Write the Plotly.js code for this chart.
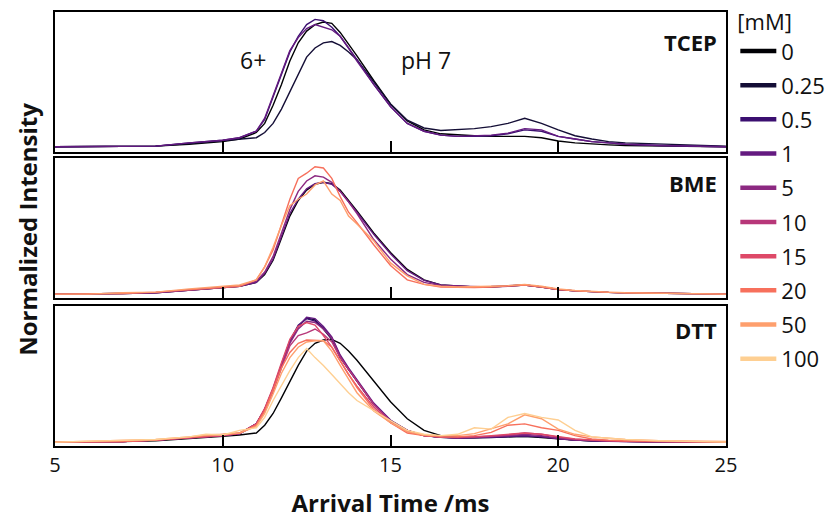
<!DOCTYPE html>
<html>
<head>
<meta charset="utf-8">
<script src="https://cdn.plot.ly/plotly-3.0.1.min.js"></script>
<style>html,body{margin:0;padding:0;background:#fff;}#chart{width:829px;height:519px;}</style>
</head>
<body>
<div id="chart"></div>
<script>
// Arrival time grid (ms)
const arrivalTime = [5, 6, 7, 8, 9, 9.5, 10, 10.5, 11, 11.25, 11.5, 11.75, 12, 12.25, 12.5, 12.75, 13, 13.25, 13.5, 13.75, 14, 14.5, 15, 15.5, 16, 16.5, 17, 17.5, 18, 18.5, 19, 19.5, 20, 20.5, 21, 21.5, 22, 23, 24, 25];

// Concentration labels [mM] and colours
const concLabels = ['0', '0.25', '0.5', '1', '5', '10', '15', '20', '50', '100'];
const concColors = ['#000004', '#140e36', '#3b0f70', '#641a80', '#8c2981', '#b73779', '#de4968', '#f7705c', '#fe9f6d', '#fecf92'];

// TCEP panel
const tcep_0    = [0.04,0.04,0.04,0.045,0.06,0.07,0.08,0.10,0.15,0.22,0.36,0.52,0.70,0.84,0.93,0.98,1.00,0.99,0.92,0.83,0.74,0.55,0.37,0.24,0.17,0.14,0.13,0.125,0.12,0.12,0.12,0.11,0.085,0.07,0.06,0.055,0.05,0.045,0.042,0.04];
const tcep_0_25 = [0.04,0.04,0.04,0.045,0.065,0.075,0.085,0.095,0.11,0.15,0.22,0.33,0.46,0.60,0.73,0.80,0.84,0.85,0.82,0.77,0.71,0.54,0.37,0.245,0.185,0.165,0.17,0.18,0.195,0.22,0.26,0.22,0.17,0.125,0.10,0.08,0.07,0.06,0.05,0.045];
const tcep_0_5  = [0.04,0.04,0.04,0.045,0.07,0.08,0.09,0.11,0.16,0.25,0.42,0.60,0.77,0.89,0.98,1.02,1.01,0.96,0.89,0.80,0.71,0.52,0.35,0.22,0.16,0.13,0.12,0.12,0.125,0.14,0.17,0.16,0.12,0.10,0.08,0.07,0.06,0.05,0.045,0.04];
const tcep_1    = [0.04,0.04,0.04,0.045,0.07,0.08,0.09,0.11,0.16,0.26,0.43,0.61,0.78,0.88,0.95,0.98,0.96,0.94,0.89,0.80,0.70,0.52,0.35,0.22,0.16,0.13,0.12,0.125,0.13,0.145,0.18,0.17,0.12,0.10,0.08,0.07,0.06,0.05,0.045,0.04];

// BME panel
const bme_0  = [0.03,0.03,0.035,0.04,0.06,0.07,0.08,0.09,0.12,0.18,0.29,0.46,0.63,0.75,0.83,0.875,0.89,0.88,0.83,0.75,0.67,0.50,0.35,0.22,0.14,0.10,0.09,0.085,0.085,0.09,0.10,0.085,0.065,0.055,0.048,0.043,0.04,0.035,0.032,0.03];
const bme_1  = [0.03,0.03,0.035,0.04,0.06,0.07,0.08,0.09,0.12,0.19,0.30,0.47,0.65,0.76,0.84,0.88,0.89,0.875,0.82,0.74,0.66,0.49,0.34,0.21,0.135,0.10,0.09,0.085,0.088,0.092,0.10,0.085,0.065,0.055,0.048,0.043,0.04,0.035,0.032,0.03];
const bme_5  = [0.03,0.03,0.035,0.04,0.06,0.07,0.08,0.09,0.13,0.20,0.32,0.50,0.68,0.82,0.90,0.94,0.93,0.89,0.82,0.74,0.65,0.45,0.30,0.18,0.12,0.095,0.09,0.085,0.085,0.09,0.10,0.085,0.065,0.055,0.048,0.043,0.04,0.035,0.032,0.03];
const bme_20 = [0.03,0.03,0.035,0.045,0.065,0.075,0.08,0.09,0.14,0.24,0.37,0.56,0.76,0.92,0.96,1.01,1.00,0.92,0.78,0.66,0.58,0.41,0.25,0.14,0.105,0.085,0.08,0.08,0.085,0.09,0.10,0.085,0.065,0.055,0.048,0.043,0.04,0.035,0.032,0.03];
const bme_50 = [0.03,0.03,0.04,0.045,0.07,0.08,0.085,0.10,0.14,0.24,0.39,0.56,0.71,0.76,0.80,0.87,0.90,0.80,0.75,0.63,0.57,0.44,0.27,0.17,0.105,0.09,0.085,0.085,0.09,0.095,0.105,0.09,0.07,0.058,0.05,0.045,0.04,0.036,0.033,0.03];

// DTT panel
const dtt_0    = [0.03,0.03,0.035,0.04,0.055,0.065,0.075,0.085,0.10,0.16,0.25,0.37,0.50,0.62,0.73,0.79,0.815,0.82,0.79,0.73,0.66,0.50,0.34,0.21,0.12,0.08,0.067,0.065,0.07,0.075,0.075,0.065,0.054,0.045,0.04,0.037,0.035,0.033,0.032,0.03];
const dtt_0_25 = [0.03,0.03,0.035,0.045,0.06,0.07,0.08,0.095,0.17,0.28,0.43,0.62,0.80,0.92,0.985,0.97,0.90,0.82,0.68,0.59,0.50,0.32,0.195,0.12,0.08,0.067,0.062,0.062,0.065,0.07,0.075,0.07,0.055,0.045,0.04,0.037,0.035,0.033,0.03,0.03];
const dtt_0_5  = [0.03,0.03,0.035,0.045,0.06,0.07,0.08,0.095,0.17,0.28,0.44,0.63,0.81,0.93,0.98,0.96,0.91,0.83,0.69,0.59,0.50,0.32,0.19,0.12,0.08,0.067,0.062,0.063,0.066,0.072,0.078,0.07,0.055,0.045,0.04,0.037,0.035,0.033,0.03,0.03];
const dtt_1    = [0.03,0.03,0.035,0.045,0.06,0.07,0.08,0.095,0.17,0.28,0.43,0.62,0.80,0.92,0.99,0.98,0.92,0.84,0.70,0.60,0.51,0.33,0.20,0.12,0.08,0.068,0.063,0.064,0.068,0.075,0.08,0.072,0.056,0.046,0.04,0.037,0.035,0.033,0.03,0.03];
const dtt_5    = [0.03,0.03,0.035,0.045,0.06,0.07,0.08,0.095,0.17,0.28,0.44,0.62,0.79,0.90,0.96,0.95,0.90,0.83,0.69,0.59,0.50,0.32,0.19,0.12,0.08,0.068,0.064,0.066,0.072,0.08,0.09,0.08,0.06,0.048,0.042,0.038,0.035,0.033,0.03,0.03];
const dtt_10   = [0.03,0.03,0.035,0.045,0.06,0.07,0.08,0.095,0.16,0.27,0.42,0.60,0.77,0.85,0.87,0.90,0.86,0.80,0.68,0.59,0.50,0.32,0.19,0.12,0.08,0.068,0.065,0.068,0.075,0.085,0.10,0.09,0.068,0.052,0.044,0.04,0.036,0.034,0.031,0.03];
const dtt_15   = [0.03,0.03,0.035,0.045,0.06,0.07,0.08,0.10,0.17,0.29,0.45,0.64,0.82,0.92,0.95,0.93,0.85,0.76,0.65,0.55,0.46,0.30,0.18,0.11,0.08,0.07,0.068,0.07,0.08,0.09,0.10,0.09,0.07,0.055,0.045,0.04,0.037,0.034,0.031,0.03];
const dtt_20   = [0.03,0.03,0.035,0.045,0.065,0.075,0.085,0.10,0.16,0.27,0.43,0.60,0.72,0.79,0.815,0.815,0.81,0.76,0.66,0.56,0.45,0.28,0.18,0.10,0.08,0.07,0.07,0.08,0.105,0.16,0.17,0.14,0.12,0.08,0.054,0.045,0.04,0.036,0.033,0.03];
const dtt_50   = [0.03,0.035,0.04,0.05,0.07,0.085,0.09,0.10,0.15,0.25,0.40,0.56,0.68,0.76,0.80,0.81,0.81,0.73,0.62,0.52,0.41,0.27,0.18,0.11,0.085,0.08,0.08,0.095,0.13,0.17,0.24,0.21,0.13,0.09,0.07,0.06,0.05,0.04,0.035,0.035];
const dtt_100  = [0.03,0.035,0.04,0.05,0.07,0.09,0.085,0.12,0.14,0.22,0.35,0.47,0.58,0.68,0.75,0.68,0.62,0.55,0.48,0.41,0.35,0.27,0.195,0.12,0.09,0.08,0.09,0.14,0.13,0.22,0.25,0.22,0.20,0.12,0.07,0.06,0.05,0.04,0.035,0.03];

const tcepSet = [[tcep_0, 0], [tcep_0_25, 1], [tcep_0_5, 2], [tcep_1, 3]];
const bmeSet  = [[bme_0, 0], [bme_1, 3], [bme_5, 4], [bme_20, 7], [bme_50, 8]];
const dttSet  = [[dtt_0, 0], [dtt_0_25, 1], [dtt_0_5, 2], [dtt_1, 3], [dtt_5, 4], [dtt_10, 5], [dtt_15, 6], [dtt_20, 7], [dtt_50, 8], [dtt_100, 9]];

const traces = [];
function addPanel(set, xa, ya) {
  set.forEach(([vals, ci]) => {
    traces.push({
      type: 'scatter', mode: 'lines', x: arrivalTime, y: vals,
      xaxis: xa, yaxis: ya, showlegend: false, legendgroup: 'c' + ci,
      line: {color: concColors[ci], width: 1.4}, hoverinfo: 'skip'
    });
  });
}
addPanel(tcepSet, 'x3', 'y3');
addPanel(bmeSet, 'x2', 'y2');
addPanel(dttSet, 'x', 'y');

// legend entries (legend swatches only)
concLabels.forEach((lab, i) => {
  traces.push({
    type: 'scatter', mode: 'lines', x: [null], y: [null], name: lab,
    xaxis: 'x', yaxis: 'y', legendgroup: 'c' + i, showlegend: true,
    line: {color: concColors[i], width: 4.5}
  });
});

const yRange = [0, 1.077];
const frame = {showline: true, mirror: true, linecolor: '#000', linewidth: 2, zeroline: false, showgrid: false};
const xBase = Object.assign({}, frame, {range: [5, 25], ticks: 'inside', ticklen: 11, tickwidth: 2, tickcolor: '#000', dtick: 5, tick0: 5});
const yBase = Object.assign({}, frame, {range: yRange, showticklabels: false, ticks: ''});

const layout = {
  width: 829, height: 519,
  margin: {l: 55, r: 103, t: 12, b: 73},
  paper_bgcolor: '#fff', plot_bgcolor: '#fff',
  font: {family: 'Open Sans, sans-serif', color: '#111', size: 20},
  showlegend: true,
  legend: {
    xref: 'container', yref: 'container',
    x: 0.887, y: 0.997, xanchor: 'left', yanchor: 'top',
    maxheight: 519,
    font: {size: 22, color: '#111'}, tracegroupgap: 2.6,
    title: {text: '[mM]', font: {size: 22, color: '#111'}},
    itemwidth: 36, borderwidth: 0, bgcolor: 'rgba(0,0,0,0)'
  },
  xaxis: Object.assign({}, xBase, {anchor: 'y', showticklabels: true, tickfont: {size: 20, color: '#111'},
    title: {text: '<b>Arrival Time /ms</b>', font: {size: 24, color: '#111'}, standoff: 26}}),
  xaxis2: Object.assign({}, xBase, {anchor: 'y2', showticklabels: false, matches: 'x'}),
  xaxis3: Object.assign({}, xBase, {anchor: 'y3', showticklabels: false, matches: 'x'}),
  yaxis: Object.assign({}, yBase, {domain: [0, 0.3226]}),
  yaxis2: Object.assign({}, yBase, {domain: [0.341, 0.6636]}),
  yaxis3: Object.assign({}, yBase, {domain: [0.6774, 1]}),
  annotations: [
    {text: '<b>Normalized Intensity</b>', xref: 'paper', yref: 'paper', x: -0.042, y: 0.5, xanchor: 'center', yanchor: 'middle', textangle: -90, showarrow: false, font: {size: 24, color: '#111'}},
    {text: '<b>TCEP</b>', xref: 'paper', yref: 'y3', x: 0.99, y: 0.846, xanchor: 'right', yanchor: 'middle', showarrow: false, font: {size: 22, color: '#111'}},
    {text: '<b>BME</b>', xref: 'paper', yref: 'y2', x: 0.99, y: 0.885, xanchor: 'right', yanchor: 'middle', showarrow: false, font: {size: 22, color: '#111'}},
    {text: '<b>DTT</b>', xref: 'paper', yref: 'y', x: 0.99, y: 0.89, xanchor: 'right', yanchor: 'middle', showarrow: false, font: {size: 22, color: '#111'}},
    {text: '6+', xref: 'x3', yref: 'y3', x: 10.9, y: 0.708, xanchor: 'center', yanchor: 'middle', showarrow: false, font: {size: 23, color: '#111'}},
    {text: 'pH 7', xref: 'x3', yref: 'y3', x: 16.05, y: 0.708, xanchor: 'center', yanchor: 'middle', showarrow: false, font: {size: 23, color: '#111'}}
  ]
};

Plotly.newPlot('chart', traces, layout, {displayModeBar: false, staticPlot: true});
</script>
</body>
</html>
